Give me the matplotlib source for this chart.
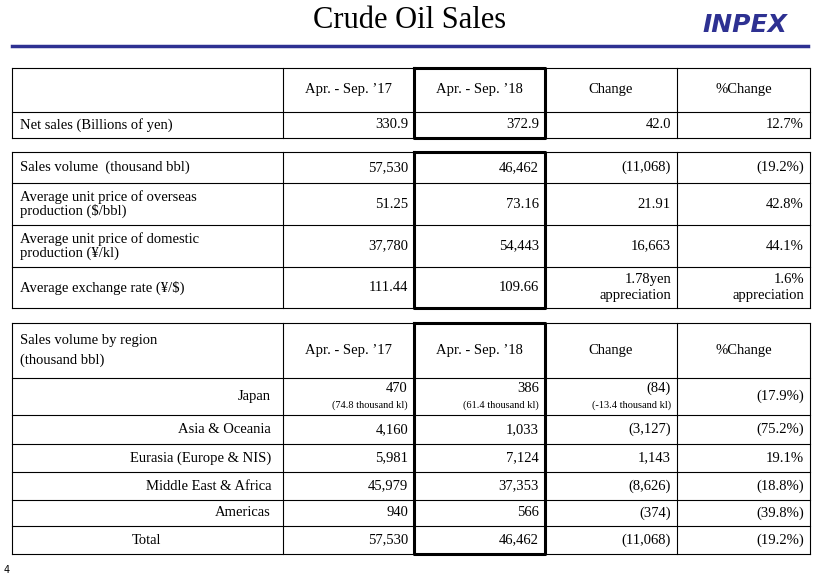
import matplotlib.pyplot as plt

plt.rcParams['font.family'] = ['Liberation Serif', 'DejaVu Serif']

headers = ["Apr. - Sep. \u201917", "Apr. - Sep. \u201918", "Change", "%Change"]

net_label = "Net sales (Billions of yen)"
net_values = ["330.9", "372.9", "42.0", "12.7%"]

t2_labels = ["Sales volume  (thousand bbl)",
             "Average unit price of overseas\nproduction ($/bbl)",
             "Average unit price of domestic\nproduction (\u00a5/kl)",
             "Average exchange rate (\u00a5/$)"]
t2_values = [["57,530", "46,462", "(11,068)", "(19.2%)"],
             ["51.25", "73.16", "21.91", "42.8%"],
             ["37,780", "54,443", "16,663", "44.1%"],
             ["111.44", "109.66", "1.78yen\nappreciation", "1.6%\nappreciation"]]

region_title = "Sales volume by region\n(thousand bbl)"
regions = ["Japan", "Asia & Oceania", "Eurasia (Europe & NIS)",
           "Middle East & Africa", "Americas", "Total"]
region_values = [["470", "386", "(84)", "(17.9%)"],
                 ["4,160", "1,033", "(3,127)", "(75.2%)"],
                 ["5,981", "7,124", "1,143", "19.1%"],
                 ["45,979", "37,353", "(8,626)", "(18.8%)"],
                 ["940", "566", "(374)", "(39.8%)"],
                 ["57,530", "46,462", "(11,068)", "(19.2%)"]]
japan_kl = ["(74.8 thousand kl)", "(61.4 thousand kl)", "(-13.4 thousand kl)"]

W, H = 826, 579
fig = plt.figure(figsize=(W / 100, H / 100), dpi=100)
ax = fig.add_axes([0, 0, 1, 1])
ax.set_xlim(0, W)
ax.set_ylim(H, 0)
ax.axis('off')

cols = [12, 283, 414, 545, 677, 810]
FS = 10.5


def grid(rows):
    top, bot = rows[0], rows[-1]
    for y in rows:
        ax.plot([cols[0], cols[-1]], [y, y], color='black', lw=0.8)
    for x in cols:
        ax.plot([x, x], [top, bot], color='black', lw=0.8)
    ax.plot([cols[2], cols[3], cols[3], cols[2], cols[2]],
            [top, top, bot, bot, top], color='black', lw=2.2)


def values_row(vals, y0, y1):
    mid = (y0 + y1) / 2
    for i, v in enumerate(vals):
        ax.text(cols[i + 2] - 6, mid, v, ha='right', va='center', fontsize=FS,
                linespacing=1.3)


def header_row(y0, y1):
    for i, h in enumerate(headers):
        ax.text((cols[i + 1] + cols[i + 2]) / 2, (y0 + y1) / 2, h,
                ha='center', va='center', fontsize=FS)


# title
ax.text(410, 20, "Crude Oil Sales", ha='center', va='center', fontsize=22)
ax.text(745, 25, "INPEX", ha='center', va='center', fontsize=18,
        fontweight='heavy', style='italic', color='#2e3192', family='DejaVu Sans')
ax.plot([12, 808], [46, 46], color='#2e3192', lw=2.5)

# table 1
r1 = [68, 112, 138]
grid(r1)
header_row(r1[0], r1[1])
ax.text(cols[0] + 8, (r1[1] + r1[2]) / 2, net_label, ha='left', va='center', fontsize=FS)
values_row(net_values, r1[1], r1[2])

# table 2
r2 = [152, 183, 225, 267, 308]
grid(r2)
for k, lab in enumerate(t2_labels):
    ax.text(cols[0] + 8, (r2[k] + r2[k + 1]) / 2, lab, ha='left', va='center',
            fontsize=FS, linespacing=1.05)
    values_row(t2_values[k], r2[k], r2[k + 1])

# table 3
r3 = [323, 378, 415, 444, 472, 500, 526, 554]
grid(r3)
header_row(r3[0], r3[1])
ax.text(cols[0] + 8, (r3[0] + r3[1]) / 2, region_title, ha='left', va='center',
        fontsize=FS, linespacing=1.6)
for k, reg in enumerate(regions):
    y0, y1 = r3[k + 1], r3[k + 2]
    mid = (y0 + y1) / 2
    if reg == "Total":
        ax.text(147, mid, reg, ha='center', va='center', fontsize=FS)
    else:
        ax.text(cols[1] - 12, mid, reg, ha='right', va='center', fontsize=FS)
    if k == 0:
        for i, v in enumerate(region_values[k]):
            if i < 3:
                ax.text(cols[i + 2] - 6, mid - 8, v, ha='right', va='center', fontsize=FS)
                ax.text(cols[i + 2] - 6, mid + 9, japan_kl[i], ha='right', va='center',
                        fontsize=7.5)
            else:
                ax.text(cols[i + 2] - 6, mid, v, ha='right', va='center', fontsize=FS)
    else:
        values_row(region_values[k], y0, y1)

ax.text(4, 570, "4", ha='left', va='center', fontsize=7, family='DejaVu Sans')

fig.savefig("out.png", dpi=100)
